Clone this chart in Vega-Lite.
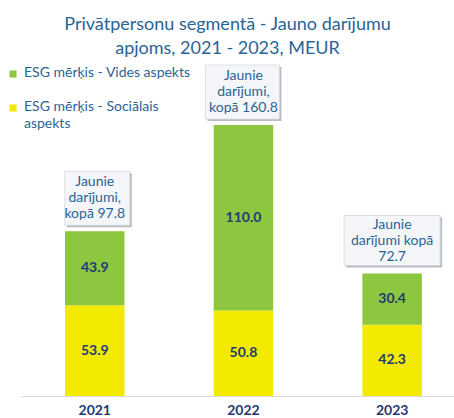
{
  "$schema": "https://vega.github.io/schema/vega-lite/v6.json",
  "width": 433,
  "height": 337,
  "autosize": {"type": "none"},
  "padding": {"left": 21, "top": 59, "right": 0, "bottom": 22},
  "background": "white",
  "config": {"view": {"stroke": null}},
  "title": {
    "text": ["Privātpersonu segmentā - Jauno darījumu", "apjoms, 2021 - 2023, MEUR"],
    "anchor": "middle",
    "frame": "group",
    "dx": -10,
    "offset": 1,
    "font": "Lato",
    "fontSize": 18,
    "fontWeight": "normal",
    "color": "#2a6496",
    "lineHeight": 24
  },
  "datasets": {
    "segments": [
      {"year": "2021", "category": "ESG mērķis - Sociālais aspekts", "value": 53.9},
      {"year": "2021", "category": "ESG mērķis - Vides aspekts", "value": 43.9},
      {"year": "2022", "category": "ESG mērķis - Sociālais aspekts", "value": 50.8},
      {"year": "2022", "category": "ESG mērķis - Vides aspekts", "value": 110.0},
      {"year": "2023", "category": "ESG mērķis - Sociālais aspekts", "value": 42.3},
      {"year": "2023", "category": "ESG mērķis - Vides aspekts", "value": 30.4}
    ],
    "totals": [
      {"year": "2021", "total": 97.8, "label": "Jaunie\ndarījumi,\nkopā 97.8"},
      {"year": "2022", "total": 160.8, "label": "Jaunie\ndarījumi,\nkopā 160.8"},
      {"year": "2023", "total": 72.7, "label": "Jaunie\ndarījumi kopā\n72.7"}
    ]
  },
  "resolve": {"scale": {"y": "independent"}},
  "layer": [
    {
      "data": {"name": "segments"},
      "mark": {"type": "bar"},
      "encoding": {
        "x": {
          "field": "year",
          "type": "nominal",
          "scale": {"paddingInner": 0.6, "paddingOuter": 0.256, "align": 0.578},
          "axis": {
            "title": null,
            "labelAngle": 0,
            "ticks": false,
            "domainColor": "#d9d9d9",
            "domainWidth": 1,
            "labelFont": "Lato",
            "labelFontSize": 14,
            "labelFontWeight": "bold",
            "labelColor": "#1f3b73",
            "labelPadding": 7
          }
        },
        "y": {
          "field": "value",
          "type": "quantitative",
          "stack": "zero",
          "scale": {"domain": [0, 200], "nice": false},
          "axis": null
        },
        "color": {
          "field": "category",
          "type": "nominal",
          "scale": {
            "domain": ["ESG mērķis - Vides aspekts", "ESG mērķis - Sociālais aspekts"],
            "range": ["#8dc63f", "#f2ea00"]
          },
          "legend": {
            "orient": "none",
            "legendX": -15,
            "legendY": 8,
            "padding": 0,
            "title": null,
            "symbolType": "square",
            "symbolSize": 50,
            "symbolStrokeWidth": 0,
            "labelFont": "Lato",
            "labelFontSize": 14,
            "labelColor": "#2a6496",
            "labelLimit": 300,
            "labelOffset": 4,
            "rowPadding": 20,
            "labelBaseline": "top",
            "labelExpr": "datum.label == 'ESG mērķis - Sociālais aspekts' ? ['ESG mērķis - Sociālais', 'aspekts'] : datum.label",
            "encode": {"labels": {"update": {"dy": {"value": -8}, "lineHeight": {"value": 17}}}}
          }
        },
        "order": {"field": "category", "sort": "ascending"}
      }
    },
    {
      "data": {"name": "segments"},
      "transform": [
        {"stack": "value", "groupby": ["year"], "sort": [{"field": "category", "order": "ascending"}], "as": ["v0", "v1"]},
        {"fold": ["v0", "v1"], "as": ["edge", "pos"]},
        {"aggregate": [{"op": "sum", "field": "pos", "as": "twiceMid"}], "groupby": ["year", "category", "value"]}
      ],
      "mark": {"type": "text", "font": "Lato", "fontSize": 14, "fontWeight": "bold", "color": "#1f3b73", "baseline": "middle"},
      "encoding": {
        "x": {"field": "year", "type": "nominal"},
        "y": {"field": "twiceMid", "type": "quantitative", "scale": {"domain": [0, 400], "nice": false}, "axis": null},
        "text": {"field": "value", "type": "quantitative", "format": ".1f"}
      }
    },
    {
      "data": {"name": "totals"},
      "mark": {"type": "point", "filled": true, "size": 10000, "opacity": 1, "xOffset": 2, "yOffset": -31, "strokeWidth": 0},
      "encoding": {
        "x": {"field": "year", "type": "nominal"},
        "y": {"field": "total", "type": "quantitative", "scale": {"domain": [0, 200], "nice": false}, "axis": null},
        "color": {"value": "#b8bcc2"},
        "shape": {
          "condition": [
            {"test": "datum.year == '2021'", "value": "M-0.6,-0.54H0.7V0.54H-0.6Z"},
            {"test": "datum.year == '2022'", "value": "M-0.76,-0.54H0.72V0.54H-0.76Z"}
          ],
          "value": "M-0.96,-0.5H0.96V0.5H-0.96Z"
        }
      }
    },
    {
      "data": {"name": "totals"},
      "mark": {"type": "point", "filled": true, "size": 10000, "opacity": 1, "yOffset": -33, "stroke": "#d3d8de", "strokeWidth": 0.8},
      "encoding": {
        "x": {"field": "year", "type": "nominal"},
        "y": {"field": "total", "type": "quantitative", "scale": {"domain": [0, 200], "nice": false}, "axis": null},
        "fill": {"value": "#f4f6f9"},
        "shape": {
          "condition": [
            {"test": "datum.year == '2021'", "value": "M-0.6,-0.54H0.7V0.54H-0.6Z"},
            {"test": "datum.year == '2022'", "value": "M-0.76,-0.54H0.72V0.54H-0.76Z"}
          ],
          "value": "M-0.96,-0.5H0.96V0.5H-0.96Z"
        }
      }
    },
    {
      "data": {"name": "totals"},
      "mark": {"type": "text", "font": "Lato", "fontSize": 14, "color": "#2a6496", "baseline": "middle", "lineBreak": "\n", "lineHeight": 16, "yOffset": -49},
      "encoding": {
        "x": {"field": "year", "type": "nominal"},
        "y": {"field": "total", "type": "quantitative", "scale": {"domain": [0, 200], "nice": false}, "axis": null},
        "text": {"field": "label", "type": "nominal"}
      }
    }
  ]
}
